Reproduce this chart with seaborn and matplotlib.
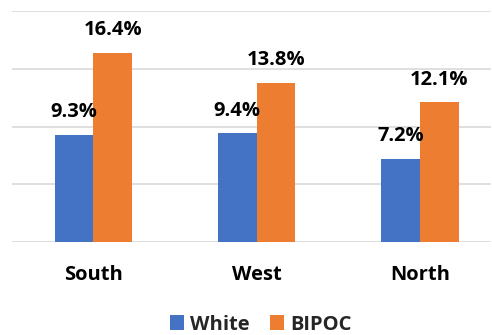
import matplotlib
matplotlib.use("Agg")
import matplotlib.pyplot as plt
import seaborn as sns
import pandas as pd
from matplotlib.patches import Patch

regions = ["South", "West", "North"]
white = [9.3, 9.4, 7.2]
bipoc = [16.4, 13.8, 12.1]
groups = ["White", "BIPOC"]
colors = ["#4472C4", "#ED7D31"]

df = pd.DataFrame({
    "region": regions * 2,
    "group": [groups[0]] * 3 + [groups[1]] * 3,
    "value": white + bipoc,
})

sns.set_style("white")
fam = ["Open Sans", "DejaVu Sans"]
plt.rcParams["font.family"] = fam

fig = plt.figure(figsize=(4.92, 3.35), dpi=100)
ax = fig.add_axes([12 / 492, (335 - 242) / 335, 479 / 492, 231 / 335])

sns.barplot(data=df, x="region", y="value", hue="group", order=regions,
            hue_order=groups, palette=colors, width=0.474, saturation=1,
            errorbar=None, legend=False, ax=ax, zorder=3,
            linewidth=0, edgecolor="none")

ax.set_ylim(0, 20)
ax.set_xlim(-0.498, 2.435)
ax.set_yticks([0, 5, 10, 15, 20])
ax.yaxis.grid(True, color="#D9D9D9", linewidth=1.2, zorder=0)
ax.set_axisbelow(True)
for s in ax.spines.values():
    s.set_visible(False)
ax.set_yticklabels([])
ax.tick_params(axis="both", length=0)
ax.tick_params(axis="x", pad=16.5)
ax.set_xlabel("")
ax.set_ylabel("")
for lbl in ax.get_xticklabels():
    lbl.set_fontsize(14.5)
    lbl.set_fontweight("bold")
    lbl.set_color("#000000")

for cont in ax.containers:
    ax.bar_label(cont, labels=[f"{v:.1f}%" for v in cont.datavalues],
                 padding=9, fontsize=14.5, fontweight="bold", color="#000000")

handles = [Patch(facecolor=c, edgecolor="none") for c in colors]
fig.legend(handles, groups, loc="center", bbox_to_anchor=(261 / 492, 1 - 324.5 / 335),
           ncol=2, frameon=False, handlelength=0.7, handleheight=0.7,
           handletextpad=0.3, columnspacing=1.0, borderpad=0.2,
           prop={"size": 14.5, "weight": "bold", "family": fam})

fig.savefig("out.png", dpi=100)
